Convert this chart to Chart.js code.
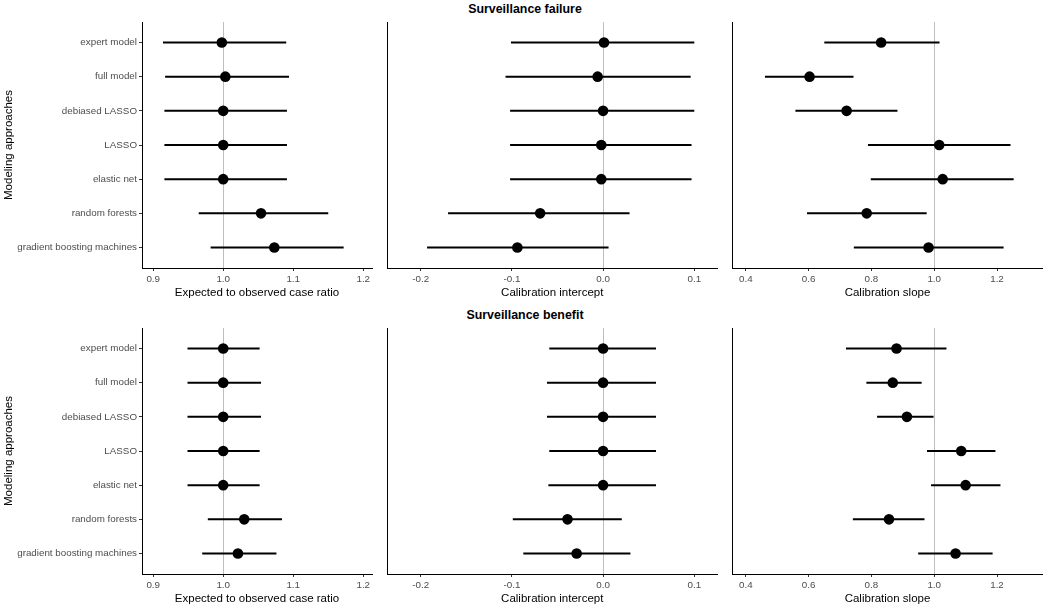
<!DOCTYPE html>
<html>
<head>
<meta charset="utf-8">
<script src="https://cdn.jsdelivr.net/npm/chart.js@4"></script>
<style>
  body { margin: 0; background: #fff; width: 1050px; height: 612px; position: relative; overflow: hidden; }
  canvas { position: absolute; }
  .rowTitle { position: absolute; left: 0; width: 1050px; text-align: center; font: bold 12.4px "Liberation Sans", Arial, sans-serif; color: #000; }
</style>
</head>
<body>
<div class="rowTitle" style="top:2px">Surveillance failure</div>
<div class="rowTitle" style="top:308px">Surveillance benefit</div>
<canvas id="c1" width="378" height="278" style="left:0;top:22px"></canvas>
<canvas id="c2" width="345" height="278" style="left:378px;top:22px"></canvas>
<canvas id="c3" width="327" height="278" style="left:723px;top:22px"></canvas>
<canvas id="c4" width="378" height="278" style="left:0;top:328px"></canvas>
<canvas id="c5" width="345" height="278" style="left:378px;top:328px"></canvas>
<canvas id="c6" width="327" height="278" style="left:723px;top:328px"></canvas>
<script>
const categories = ["expert model", "full model", "debiased LASSO", "LASSO", "elastic net", "random forests", "gradient boosting machines"];

// Surveillance failure
const failRatioEst = [0.998, 1.003, 1.000, 1.000, 1.000, 1.054, 1.073];
const failRatioLo  = [0.914, 0.917, 0.916, 0.916, 0.916, 0.965, 0.982];
const failRatioHi  = [1.090, 1.094, 1.091, 1.091, 1.091, 1.150, 1.172];
const failInterceptEst = [0.001, -0.006, 0.000, -0.002, -0.002, -0.069, -0.094];
const failInterceptLo  = [-0.101, -0.107, -0.102, -0.102, -0.102, -0.170, -0.193];
const failInterceptHi  = [0.100, 0.096, 0.100, 0.097, 0.097, 0.029, 0.006];
const failSlopeEst = [0.831, 0.603, 0.721, 1.016, 1.027, 0.785, 0.982];
const failSlopeLo  = [0.650, 0.461, 0.558, 0.789, 0.798, 0.595, 0.744];
const failSlopeHi  = [1.017, 0.743, 0.883, 1.243, 1.253, 0.976, 1.221];

// Surveillance benefit
const benRatioEst = [1.000, 1.000, 1.000, 1.000, 1.000, 1.030, 1.021];
const benRatioLo  = [0.949, 0.949, 0.949, 0.949, 0.949, 0.978, 0.970];
const benRatioHi  = [1.052, 1.054, 1.054, 1.052, 1.052, 1.084, 1.076];
const benInterceptEst = [0.000, 0.000, 0.000, 0.000, 0.000, -0.039, -0.029];
const benInterceptLo  = [-0.059, -0.0615, -0.0615, -0.059, -0.060, -0.099, -0.0875];
const benInterceptHi  = [0.058, 0.058, 0.058, 0.058, 0.058, 0.0205, 0.030];
const benSlopeEst = [0.880, 0.868, 0.913, 1.086, 1.100, 0.856, 1.068];
const benSlopeLo  = [0.719, 0.784, 0.818, 0.977, 0.990, 0.741, 0.949];
const benSlopeHi  = [1.039, 0.960, 0.998, 1.195, 1.211, 0.969, 1.186];

const ratioTicks = [0.9, 1.0, 1.1, 1.2];
const interceptTicks = [-0.2, -0.1, 0.0, 0.1];
const slopeTicks = [0.4, 0.6, 0.8, 1.0, 1.2];

const FONT = '"Liberation Sans", Arial, sans-serif';

// gray vertical reference line (1 for ratio/slope, 0 for intercept)
const refLine = {
    id: 'refLine',
    beforeDatasetsDraw(chart, args, opts) {
        const ctx = chart.ctx;
        const area = chart.chartArea;
        const x = Math.round(chart.scales.x.getPixelForValue(opts.value)) + 0.5;
        ctx.save();
        ctx.strokeStyle = '#bebebe';
        ctx.lineWidth = 1;
        ctx.beginPath();
        ctx.moveTo(x, area.top);
        ctx.lineTo(x, area.bottom);
        ctx.stroke();
        ctx.restore();
    }
};

function makePanel(id, est, lo, hi, ticks, min, max, ref, xTitle, yWidth, rightPad, showY) {
    const bars = categories.map((c, i) => ({
        data: [{ x: lo[i], y: i + 1 }, { x: hi[i], y: i + 1 }],
        showLine: true,
        borderColor: '#000',
        borderWidth: 2,
        pointRadius: 0,
        clip: false
    }));
    const points = {
        data: categories.map((c, i) => ({ x: est[i], y: i + 1 })),
        pointRadius: 5.3,
        pointBackgroundColor: '#000',
        pointBorderColor: '#000',
        pointBorderWidth: 0,
        showLine: false,
        clip: false
    };

    new Chart(document.getElementById(id), {
        type: 'scatter',
        data: { datasets: bars.concat([points]) },
        options: {
            responsive: false,
            animation: false,
            devicePixelRatio: 1,
            layout: { autoPadding: false, padding: { left: 0, right: rightPad, top: 0, bottom: 0 } },
            plugins: {
                legend: { display: false },
                tooltip: { enabled: false },
                refLine: { value: ref }
            },
            scales: {
                x: {
                    type: 'linear',
                    min: min,
                    max: max,
                    afterBuildTicks: axis => { axis.ticks = ticks.map(v => ({ value: v })); },
                    afterFit: axis => {
                        axis.height = 32;
                        axis.paddingLeft = 0;
                        axis.paddingRight = 0;
                    },
                    grid: { drawOnChartArea: false, drawTicks: true, tickLength: 3, color: '#333' },
                    border: { display: true, color: '#000', width: 1 },
                    ticks: {
                        color: '#4d4d4d',
                        font: { family: FONT, size: 9.8 },
                        padding: 2,
                        maxRotation: 0,
                        callback: v => v.toFixed(1)
                    },
                    title: {
                        display: true,
                        text: xTitle,
                        color: '#000',
                        font: { family: FONT, size: 11.5 },
                        padding: { top: 0, bottom: 0 }
                    }
                },
                y: {
                    type: 'linear',
                    reverse: true,
                    min: 0.4,
                    max: 7.6,
                    afterBuildTicks: axis => { axis.ticks = categories.map((c, i) => ({ value: i + 1 })); },
                    afterFit: axis => {
                        axis.width = yWidth;
                        axis.paddingTop = 0;
                        axis.paddingBottom = 0;
                    },
                    grid: { drawOnChartArea: false, drawTicks: showY, tickLength: 3, color: '#333' },
                    border: { display: true, color: '#000', width: 1 },
                    ticks: {
                        display: showY,
                        color: '#4d4d4d',
                        font: { family: FONT, size: 9.8 },
                        padding: 2,
                        autoSkip: false,
                        callback: v => categories[v - 1]
                    },
                    title: {
                        display: showY,
                        text: 'Modeling approaches',
                        color: '#000',
                        font: { family: FONT, size: 11.5 },
                        padding: { top: 2, bottom: 0 }
                    }
                }
            }
        },
        plugins: [refLine]
    });
}

makePanel('c1', failRatioEst, failRatioLo, failRatioHi, ratioTicks, 0.884, 1.2125, 1, 'Expected to observed case ratio', 142, 6, true);
makePanel('c2', failInterceptEst, failInterceptLo, failInterceptHi, interceptTicks, -0.2364, 0.1249, 0, 'Calibration intercept', 9.5, 6, false);
makePanel('c3', failSlopeEst, failSlopeLo, failSlopeHi, slopeTicks, 0.357, 1.3455, 1, 'Calibration slope', 9.3, 7.3, false);
makePanel('c4', benRatioEst, benRatioLo, benRatioHi, ratioTicks, 0.884, 1.2125, 1, 'Expected to observed case ratio', 142, 6, true);
makePanel('c5', benInterceptEst, benInterceptLo, benInterceptHi, interceptTicks, -0.2364, 0.1249, 0, 'Calibration intercept', 9.5, 6, false);
makePanel('c6', benSlopeEst, benSlopeLo, benSlopeHi, slopeTicks, 0.357, 1.3455, 1, 'Calibration slope', 9.3, 7.3, false);
</script>
</body>
</html>
